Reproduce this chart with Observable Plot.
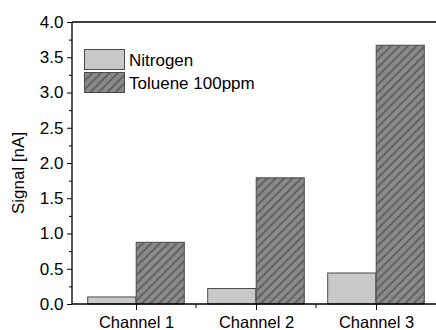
<!DOCTYPE html>
<html><head><meta charset="utf-8">
<script src="https://cdn.jsdelivr.net/npm/d3@7"></script>
<script src="https://cdn.jsdelivr.net/npm/@observablehq/plot@0.6"></script>
<style>
body{margin:0;background:#fff;}
#chart svg{overflow:visible;display:block;}
</style>
</head><body><div id="chart"></div>
<script>
const channels = ["Channel 1", "Channel 2", "Channel 3"];
const series = ["Nitrogen", "Toluene 100ppm"];
const nitrogen = [0.10, 0.22, 0.44];
const toluene = [0.875, 1.79, 3.67];
const yMajorTicks = [0, 0.5, 1.0, 1.5, 2.0, 2.5, 3.0, 3.5, 4.0];
const yMinorTicks = [0.25, 0.75, 1.25, 1.75, 2.25, 2.75, 3.25, 3.75];
const yLabel = "Signal [nA]";

const data = channels.flatMap((c, i) => [
  {channel: c, series: series[0], value: nitrogen[i]},
  {channel: c, series: series[1], value: toluene[i]}
]);

const FONT = "'Liberation Sans', Arial, sans-serif";
const nFill = "#c8c8c8", edge = "#4a4a4a";

function defs() {
  const g = d3.create("svg:g");
  const p = g.append("defs").append("pattern")
    .attr("id", "hatch").attr("patternUnits", "userSpaceOnUse")
    .attr("width", 6).attr("height", 6).attr("patternTransform", "rotate(45)");
  p.append("rect").attr("width", 6).attr("height", 6).attr("fill", "#8a8a8a");
  p.append("line").attr("x1", 3).attr("x2", 3).attr("y1", -1).attr("y2", 7)
    .attr("stroke", "#3a3a3a").attr("stroke-width", 1);
  return g.node();
}

function frameAndExtras(index, scales, values, dims) {
  const {width, marginLeft, marginTop, height, marginBottom} = dims;
  const bottom = height - marginBottom;
  const g = d3.create("svg:g").attr("text-anchor", "start");
  g.append("line").attr("x1", marginLeft).attr("x2", width).attr("y1", marginTop).attr("y2", marginTop)
    .attr("stroke", "#000").attr("stroke-width", 1.3);
  g.append("line").attr("x1", marginLeft).attr("x2", marginLeft).attr("y1", marginTop).attr("y2", bottom)
    .attr("stroke", "#000").attr("stroke-width", 1.3);
  g.append("line").attr("x1", marginLeft).attr("x2", width).attr("y1", bottom).attr("y2", bottom)
    .attr("stroke", "#000").attr("stroke-width", 1.3);
  for (let i = 1; i < channels.length; i++) {
    const xp = scales.x(channels[i]);
    g.append("line").attr("x1", xp).attr("x2", xp).attr("y1", bottom).attr("y2", bottom + 4)
      .attr("stroke", "#000").attr("stroke-width", 1);
  }
  g.append("text").attr("transform", `translate(18,${(marginTop + bottom) / 2 + 10}) rotate(-90)`)
    .attr("text-anchor", "middle").attr("dy", "0.35em")
    .attr("style", `font-family:${FONT};font-size:17px`).attr("fill", "#000").text(yLabel);
  const fills = [nFill, "url(#hatch)"];
  const lg = g.append("g");
  series.forEach((s, i) => {
    const y0 = 49 + i * 23;
    lg.append("rect").attr("x", 84.5).attr("y", y0 + 0.5).attr("width", 40).attr("height", 20)
      .attr("fill", fills[i]).attr("stroke", edge).attr("stroke-width", 1);
  });
  series.forEach((s, i) => {
    const y0 = 49 + i * 23;
    lg.append("text").attr("x", 129).attr("y", y0 + 16.5).attr("text-anchor", "start")
      .attr("style", `font-family:${FONT};font-size:17px`).attr("fill", "#000").text(s);
  });
  return g.node();
}

const plot = Plot.plot({
  width: 436,
  height: 330,
  marginLeft: 72,
  marginRight: 0,
  marginTop: 22,
  marginBottom: 26,
  style: {fontFamily: FONT, fontSize: "17px", color: "#000", background: "#fff"},
  x: {domain: channels, range: [75, 436], padding: 0, label: null},
  y: {domain: [0, 4], label: null},
  marks: [
    defs,
    Plot.barY(data.filter(d => d.series === series[0]), {
      x: "channel", y: "value", fill: nFill, stroke: edge, strokeWidth: 1,
      insetLeft: 11.7, insetRight: 60.2
    }),
    Plot.barY(data.filter(d => d.series === series[1]), {
      x: "channel", y: "value", fill: "url(#hatch)", stroke: edge, strokeWidth: 1,
      insetLeft: 60.2, insetRight: 11.7
    }),
    Plot.axisY(yMajorTicks, {tickSize: 5, tickPadding: 4, tickFormat: d3.format(".1f"), label: null, stroke: "#000"}),
    Plot.axisY(yMinorTicks, {tickSize: 3, tickFormat: () => "", label: null, stroke: "#000"}),
    Plot.axisX({tickSize: 6, tickPadding: 6, label: null, stroke: "#000", fontSize: 16.5}),
    frameAndExtras
  ]
});
document.getElementById("chart").append(plot);
</script>
</body></html>
